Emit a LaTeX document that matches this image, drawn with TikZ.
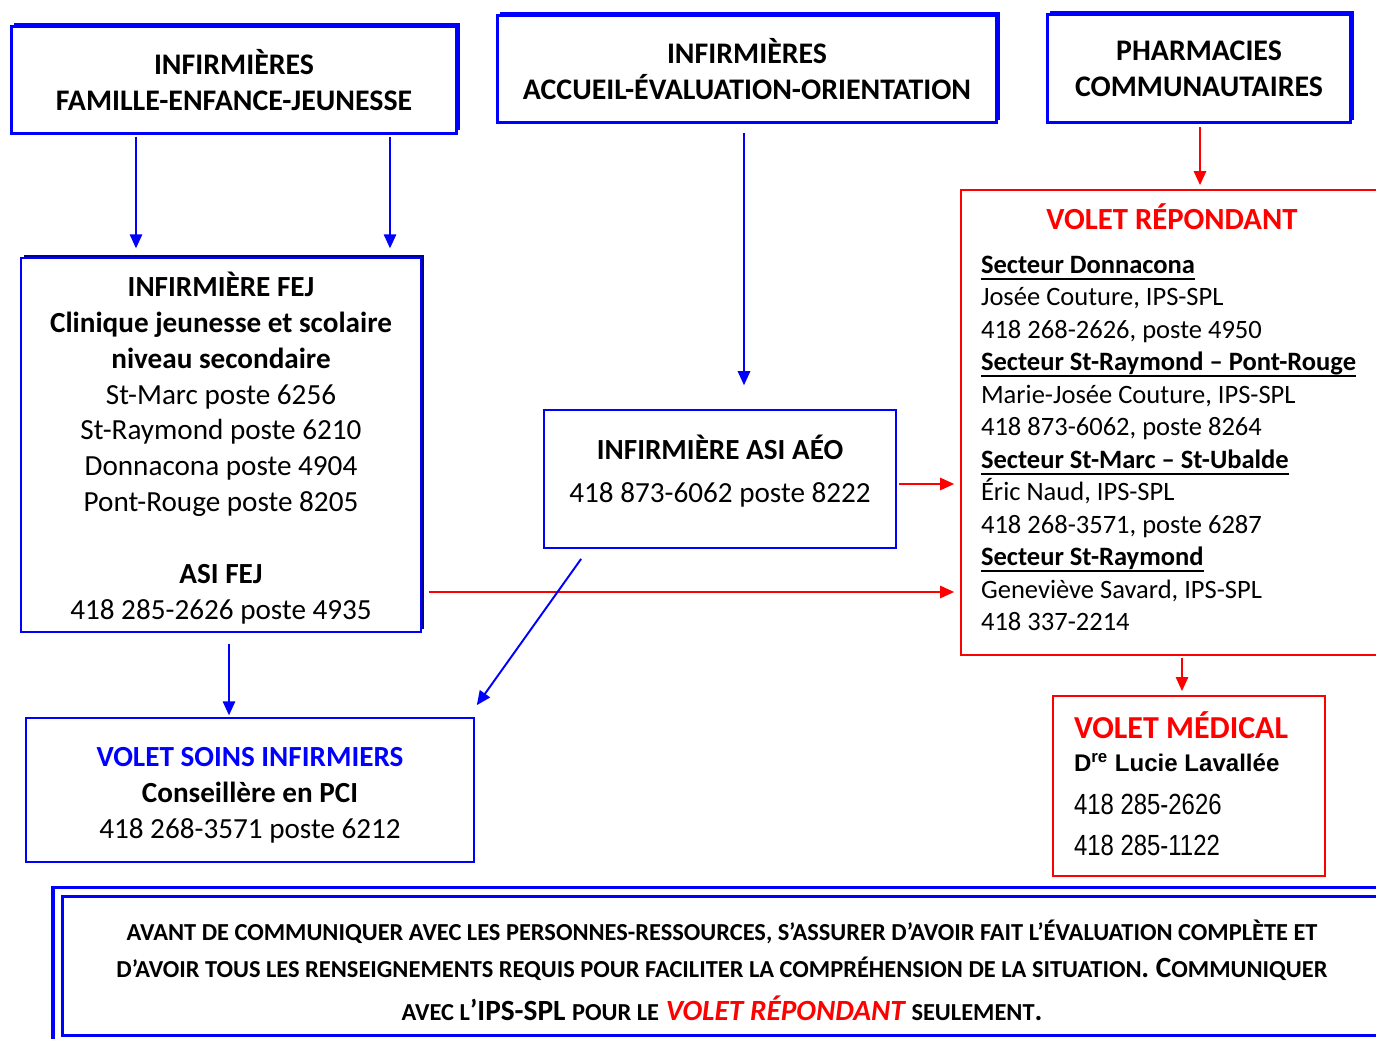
\documentclass[tikz,border=0pt]{standalone}
\usepackage{fontspec}
\setmainfont{Carlito}
\newfontfamily\arialfont{Liberation Sans}
\newfontfamily\narrowfont[FakeStretch=0.82]{Liberation Sans}
\usepackage{xcolor}
\usetikzlibrary{arrows.meta,shadows}
\definecolor{boxblue}{HTML}{0000FF}
\definecolor{navy}{HTML}{00009C}
\definecolor{alertred}{HTML}{FF0000}
\tikzset{
  headbox/.style={draw=boxblue, line width=1.7pt, fill=white, align=center, inner sep=0pt,
    general shadow={shadow xshift=1.8pt, shadow yshift=1.8pt, fill=boxblue},
    font=\bfseries\fontsize{17}{20.7}\selectfont},
  fejbox/.style={draw=boxblue, line width=1pt, fill=white, align=center, inner sep=0pt,
    general shadow={shadow xshift=1.7pt, shadow yshift=1.7pt, fill=navy},
    font=\fontsize{16.6}{20.4}\selectfont},
  bluebox/.style={draw=boxblue, line width=1pt, align=center, inner sep=0pt,
    font=\fontsize{16.6}{20.4}\selectfont},
  redbox/.style={draw=alertred, line width=1pt, align=flush left, inner ysep=0pt},
  notebox/.style={draw=boxblue, double=white, double distance=3.4pt, line width=1.9pt,
    align=center, font=\bfseries\fontsize{16.7}{21}\selectfont},
  barr/.style={draw=boxblue, line width=1.1pt, -{Triangle[length=8pt,width=7pt]}},
  rarr/.style={draw=alertred, line width=1.1pt, -{Triangle[length=8pt,width=7pt]}},
}
\newcommand\petit[1]{{\fontsize{13.9}{21}\selectfont #1}}
\newsavebox\sectbox
\newcommand\sect[1]{\leavevmode\sbox\sectbox{\textbf{#1}}\rlap{\usebox\sectbox}\rule[-3.6pt]{\wd\sectbox}{1.1pt}}
\begin{document}
\begin{tikzpicture}[x=0.02cm, y=-0.02cm]
  \useasboundingbox (0,0) rectangle (1376,1038);
  \clip (0,0) rectangle (1376,1038);

  \node[headbox, minimum width=8.92cm, minimum height=2.14cm] (fejtop) at (234,80)
    {INFIRMIÈRES\\FAMILLE-ENFANCE-JEUNESSE};
  \node[headbox, minimum width=10cm, minimum height=2.16cm] (aeotop) at (747,69)
    {INFIRMIÈRES\\ACCUEIL-ÉVALUATION-ORIENTATION};
  \node[headbox, minimum width=6.08cm, minimum height=2.18cm] (pharma) at (1199,68.5)
    {PHARMACIES\\COMMUNAUTAIRES};

  \node[fejbox, minimum width=8cm, minimum height=7.48cm] (fej) at (221,445)
    {\textbf{INFIRMIÈRE FEJ}\\\textbf{Clinique jeunesse et scolaire}\\\textbf{niveau secondaire}\\
     St-Marc poste 6256\\St-Raymond poste 6210\\Donnacona poste 4904\\Pont-Rouge poste 8205\\[20.4pt]
     \textbf{ASI FEJ}\\418 285-2626 poste 4935\par\vspace*{-3.4pt}};
  \node[bluebox, minimum width=7.04cm, minimum height=2.76cm] (asiaeo) at (720,479)
    {\textbf{INFIRMIÈRE ASI AÉO}\\[4.6pt]418 873-6062 poste 8222\par\vspace*{9pt}};
  \node[redbox, text width=7.64cm, inner xsep=0.4cm, minimum height=9.3cm,
    font=\fontsize{15.1}{18.5}\selectfont] (repond) at (1172,422.5)
    {\makebox[7.64cm]{\color{alertred}\bfseries\fontsize{17.5}{18.5}\selectfont VOLET RÉPONDANT}\\[6.5pt]
     \sect{Secteur Donnacona}\\Josée Couture, IPS-SPL\\418 268-2626, poste 4950\\
     \sect{Secteur St-Raymond – Pont-Rouge}\\Marie-Josée Couture, IPS-SPL\\418 873-6062, poste 8264\\
     \sect{Secteur St-Marc – St-Ubalde}\\Éric Naud, IPS-SPL\\418 268-3571, poste 6287\\
     \sect{Secteur St-Raymond}\\Geneviève Savard, IPS-SPL\\418 337-2214\rule[-6pt]{0pt}{6pt}};

  \node[bluebox, minimum width=8.96cm, minimum height=2.88cm] (soins) at (250,790)
    {\textcolor{boxblue}{\bfseries VOLET SOINS INFIRMIERS}\\\textbf{Conseillère en PCI}\\
     418 268-3571 poste 6212\par\vspace*{-5.7pt}};
  \node[redbox, text width=4.6cm, inner xsep=0.42cm, minimum height=3.6cm,
    font=\fontsize{16.6}{20.4}\selectfont] (medical) at (1189,786)
    {{\color{alertred}\bfseries\fontsize{18.2}{20.4}\selectfont VOLET MÉDICAL}\\[-1.5pt]
     {\arialfont\bfseries\fontsize{13.7}{20.4}\selectfont D\textsuperscript{re} Lucie Lavallée}\\[4pt]
     {\narrowfont\fontsize{16.6}{20.4}\selectfont 418 285-2626}\\[2.9pt]
     {\narrowfont\fontsize{16.6}{20.4}\selectfont 418 285-1122}\rule[-2.5pt]{0pt}{2.5pt}};

  \node[notebox, minimum width=26.58cm, minimum height=2.96cm] (note) at (722,966)
    {\petit{AVANT DE COMMUNIQUER AVEC LES PERSONNES-RESSOURCES, S’ASSURER D’AVOIR FAIT L’ÉVALUATION COMPLÈTE ET}\\
     \petit{D’AVOIR TOUS LES RENSEIGNEMENTS REQUIS POUR FACILITER LA COMPRÉHENSION DE LA SITUATION}. C\petit{OMMUNIQUER}\\[3.4pt]
     \petit{AVEC L}’IPS-SPL \petit{POUR LE} {\color{alertred}\itshape VOLET RÉPONDANT} \petit{SEULEMENT}.\par\vspace*{-4.5pt}};

  \coordinate (xa) at (136,0);
  \coordinate (xb) at (390,0);
  \coordinate (xc) at (744,0);
  \coordinate (xd) at (1200,0);
  \coordinate (xe) at (229,0);
  \coordinate (xf) at (1182,0);
  \coordinate (ya) at (0,484);
  \coordinate (yb) at (0,592);

  \draw[barr, shorten <=1pt, shorten >=5pt] (fejtop.south -| xa) -- (fej.north -| xa);
  \draw[barr, shorten <=1pt, shorten >=5pt] (fejtop.south -| xb) -- (fej.north -| xb);
  \draw[barr, shorten <=5pt, shorten >=13.6pt] (aeotop.south -| xc) -- (asiaeo.north -| xc);
  \draw[rarr, shorten <=1.7pt, shorten >=2.3pt] (pharma.south -| xd) -- (repond.north -| xd);
  \draw[rarr, shorten <=1pt, shorten >=3.4pt] (asiaeo.east |- ya) -- (repond.west |- ya);
  \draw[rarr, shorten <=4pt, shorten >=3.4pt] (fej.east |- yb) -- (repond.west |- yb);
  \draw[barr, shorten <=6.2pt, shorten >=1pt] (fej.south -| xe) -- (soins.north -| xe);
  \draw[barr] ([shift={(38,10)}]asiaeo.south west) -- ([shift={(2,-12)}]soins.north east);
  \draw[rarr, shorten <=1pt, shorten >=2.3pt] (repond.south -| xf) -- (medical.north -| xf);
\end{tikzpicture}
\end{document}
